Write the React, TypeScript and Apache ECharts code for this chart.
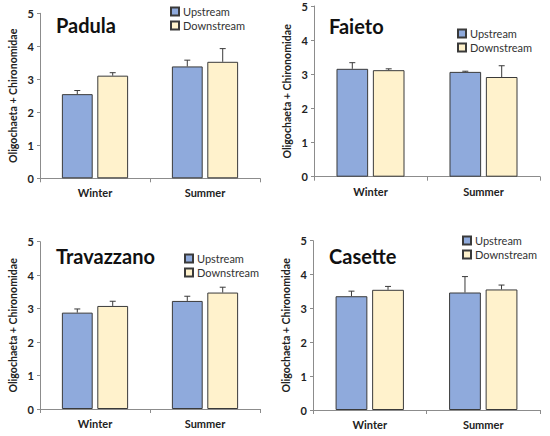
import React, { useEffect, useRef } from "react";
import * as echarts from "echarts";

const categories = ["Winter", "Summer"];
const legendNames = ["Upstream", "Downstream"];
const siteNames = ["Padula", "Faieto", "Travazzano", "Casette"];
const yTicks = [0, 1, 2, 3, 4, 5];

const padulaUp = [2.55, 3.39];
const padulaUpErr = [0.11, 0.19];
const padulaDown = [3.11, 3.53];
const padulaDownErr = [0.09, 0.4];

const faietoUp = [3.16, 3.07];
const faietoUpErr = [0.18, 0.02];
const faietoDown = [3.12, 2.92];
const faietoDownErr = [0.04, 0.33];

const travazzanoUp = [2.88, 3.23];
const travazzanoUpErr = [0.11, 0.14];
const travazzanoDown = [3.08, 3.48];
const travazzanoDownErr = [0.14, 0.16];

const casetteUp = [3.36, 3.47];
const casetteUpErr = [0.15, 0.47];
const casetteDown = [3.55, 3.56];
const casetteDownErr = [0.1, 0.13];

const siteData = [
  { up: padulaUp, upErr: padulaUpErr, down: padulaDown, downErr: padulaDownErr },
  { up: faietoUp, upErr: faietoUpErr, down: faietoDown, downErr: faietoDownErr },
  { up: travazzanoUp, upErr: travazzanoUpErr, down: travazzanoDown, downErr: travazzanoDownErr },
  { up: casetteUp, upErr: casetteUpErr, down: casetteDown, downErr: casetteDownErr },
];

const grids = [
  { left: 40, top: 13.3, width: 220, height: 165 },
  { left: 314, top: 6, width: 226, height: 170.7 },
  { left: 40, top: 241.7, width: 220, height: 167.3 },
  { left: 313, top: 240.7, width: 227, height: 169.3 },
];
const titlePos = [
  { left: 56, top: 15 },
  { left: 329, top: 16 },
  { left: 56, top: 246 },
  { left: 329, top: 246 },
];
const legendPos = [
  { left: 170, top: 6 },
  { left: 457, top: 28 },
  { left: 184, top: 253 },
  { left: 462, top: 235 },
];

const BLUE = "#8FAADC";
const YELLOW = "#FFF2CC";
const EDGE = "#3a3a3a";
const BAR_W = 0.28;
const BAR_GAP = 0.15;
const FONT = "Lato";

export default function App() {
  const ref = useRef<HTMLDivElement>(null);
  useEffect(() => {
    if (!ref.current) return;
    const chart = echarts.init(ref.current, undefined, { renderer: "svg" });

    const makeErr = (side: number) => (params: any, api: any) => {
      const cat = api.value(0);
      const mean = api.value(1);
      const top = api.value(2);
      const catW = api.size([1, 0])[0];
      const bw = catW * BAR_W;
      const off = side * (bw * (1 + BAR_GAP)) / 2;
      const p0 = api.coord([cat, mean]);
      const p1 = api.coord([cat, top]);
      const x = p0[0] + off;
      const cap = 3;
      const st = { stroke: EDGE, lineWidth: 1 };
      return {
        type: "group",
        children: [
          { type: "line", shape: { x1: x, y1: p0[1], x2: x, y2: p1[1] }, style: st },
          { type: "line", shape: { x1: x - cap, y1: p1[1], x2: x + cap, y2: p1[1] }, style: st },
        ],
      };
    };

    const series: any[] = [];
    siteData.forEach((d, i) => {
      series.push({
        name: legendNames[0],
        type: "bar",
        xAxisIndex: i,
        yAxisIndex: i,
        data: d.up,
        barWidth: BAR_W * 100 + "%",
        barGap: BAR_GAP * 100 + "%",
        itemStyle: { color: BLUE, borderColor: EDGE, borderWidth: 1 },
      });
      series.push({
        name: legendNames[1],
        type: "bar",
        xAxisIndex: i,
        yAxisIndex: i,
        data: d.down,
        barWidth: BAR_W * 100 + "%",
        barGap: BAR_GAP * 100 + "%",
        itemStyle: { color: YELLOW, borderColor: EDGE, borderWidth: 1 },
      });
      series.push({
        type: "custom",
        xAxisIndex: i,
        yAxisIndex: i,
        renderItem: makeErr(-1),
        data: d.up.map((v, k) => [k, v, v + d.upErr[k]]),
        z: 5,
      });
      series.push({
        type: "custom",
        xAxisIndex: i,
        yAxisIndex: i,
        renderItem: makeErr(1),
        data: d.down.map((v, k) => [k, v, v + d.downErr[k]]),
        z: 5,
      });
    });

    const axisLine = { lineStyle: { color: "#8c8c8c", width: 1 } };

    chart.setOption({
      animation: false,
      grid: grids.map((g) => ({ ...g, containLabel: false })),
      title: siteNames.map((s, i) => ({
        text: s,
        ...titlePos[i],
        padding: 0,
        textStyle: { fontFamily: FONT, fontWeight: "bold", fontSize: 20, color: "#111" },
      })),
      legend: legendPos.map((p) => ({
        data: legendNames,
        orient: "vertical",
        ...p,
        padding: 0,
        itemWidth: 8,
        itemHeight: 8,
        itemGap: 3,
        icon: "rect",
        textStyle: { fontFamily: FONT, fontSize: 11, color: "#333", padding: [0, 0, 0, -1] },
      })),
      xAxis: grids.map((_, i) => ({
        type: "category",
        gridIndex: i,
        data: categories,
        axisLine,
        axisTick: { show: true, length: 4, lineStyle: { color: "#8c8c8c" } },
        axisLabel: { fontFamily: FONT, fontWeight: "bold", fontSize: 11, color: "#222", margin: 9 },
      })),
      yAxis: grids.map((_, i) => ({
        type: "value",
        gridIndex: i,
        min: yTicks[0],
        max: yTicks[yTicks.length - 1],
        interval: 1,
        name: "Oligochaeta + Chironomidae",
        nameLocation: "middle",
        nameGap: 22,
        nameTextStyle: { fontFamily: FONT, fontWeight: "bold", fontSize: 10.6, color: "#222" },
        splitLine: { show: false },
        axisLine: { show: true, ...axisLine },
        axisTick: { show: true, length: 3, lineStyle: { color: "#8c8c8c" } },
        axisLabel: { fontFamily: FONT, fontWeight: "bold", fontSize: 11, color: "#222", margin: 6 },
      })),
      series,
    });
    return () => chart.dispose();
  }, []);
  return (
    <div
      ref={ref}
      style={{ position: "fixed", left: 0, top: 0, width: 550, height: 436, background: "#fff" }}
    />
  );
}
